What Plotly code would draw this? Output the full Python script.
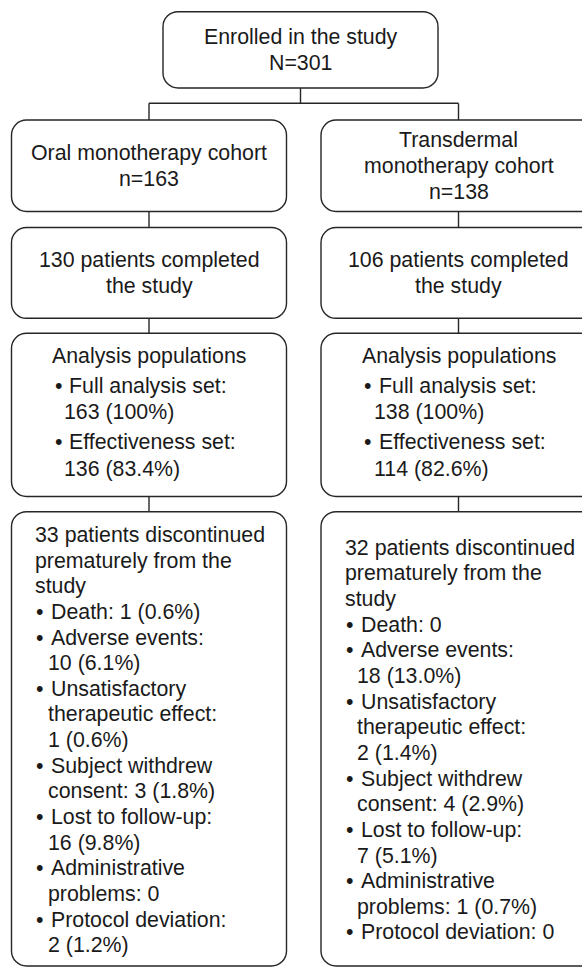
import plotly.graph_objects as go

# ---------------- data (text content of the flowchart) ----------------
enrolled_lines = ["Enrolled in the study", "N=301"]
cohort_lines = [
    ["Oral monotherapy cohort", "n=163"],
    ["Transdermal", "monotherapy cohort", "n=138"],
]
completed_lines = [
    ["130 patients completed", "the study"],
    ["106 patients completed", "the study"],
]
analysis_title = "Analysis populations"
analysis_items = [
    [["Full analysis set:", "163 (100%)"], ["Effectiveness set:", "136 (83.4%)"]],
    [["Full analysis set:", "138 (100%)"], ["Effectiveness set:", "114 (82.6%)"]],
]
discontinued_header = [
    ["33 patients discontinued", "prematurely from the", "study"],
    ["32 patients discontinued", "prematurely from the", "study"],
]
discontinued_items = [
    [
        ["Death: 1 (0.6%)"],
        ["Adverse events:", "10 (6.1%)"],
        ["Unsatisfactory", "therapeutic effect:", "1 (0.6%)"],
        ["Subject withdrew", "consent: 3 (1.8%)"],
        ["Lost to follow-up:", "16 (9.8%)"],
        ["Administrative", "problems: 0"],
        ["Protocol deviation:", "2 (1.2%)"],
    ],
    [
        ["Death: 0"],
        ["Adverse events:", "18 (13.0%)"],
        ["Unsatisfactory", "therapeutic effect:", "2 (1.4%)"],
        ["Subject withdrew", "consent: 4 (2.9%)"],
        ["Lost to follow-up:", "7 (5.1%)"],
        ["Administrative", "problems: 1 (0.7%)"],
        ["Protocol deviation: 0"],
    ],
]

# ---------------- layout constants ----------------
W, H = 582, 969
FONT = "Liberation Sans, Arial, Helvetica, sans-serif"
FS = 21.33
LINE = 25.65
CAP = 15.3
MID = 7.4            # baseline -> vertical centre of text box
TXT_COLOR = "#1a1a1a"
LINE_COLOR = "#262626"
LW = 1.4

COL_CX = [149.0, 458.5]
TOP_CX = 300.5
HALF_W = 137.5
RADIUS = 15
ROWS = [(11.7, 88.0), (120.0, 211.5), (227.5, 318.3), (333.3, 496.5), (511.7, 966.0)]
BUS_Y = 103.3

shapes = []
annotations = []


def rrect(x0, y0, x1, y1, r):
    k = 0.5523 * r
    return (
        f"M{x0 + r},{y0} L{x1 - r},{y0} C{x1 - r + k},{y0} {x1},{y0 + r - k} {x1},{y0 + r} "
        f"L{x1},{y1 - r} C{x1},{y1 - r + k} {x1 - r + k},{y1} {x1 - r},{y1} "
        f"L{x0 + r},{y1} C{x0 + r - k},{y1} {x0},{y1 - r + k} {x0},{y1 - r} "
        f"L{x0},{y0 + r} C{x0},{y0 + r - k} {x0 + r - k},{y0} {x0 + r},{y0} Z"
    )


def box(cx, row):
    y0, y1 = ROWS[row]
    shapes.append(dict(type="path", xref="x", yref="y",
                       path=rrect(cx - HALF_W, y0, cx + HALF_W, y1, RADIUS),
                       line=dict(color=LINE_COLOR, width=LW), fillcolor="white", layer="below"))


def seg(x0, y0, x1, y1):
    shapes.append(dict(type="line", xref="x", yref="y", x0=x0, y0=y0, x1=x1, y1=y1,
                       line=dict(color=LINE_COLOR, width=LW), layer="below"))


def text(x, baseline, s, anchor="left"):
    annotations.append(dict(x=x, y=baseline - MID, xref="x", yref="y", text=s,
                            showarrow=False, xanchor=anchor, yanchor="middle",
                            font=dict(family=FONT, size=FS, color=TXT_COLOR)))


def centered_block(cx, row, lines):
    y0, y1 = ROWS[row]
    b = (y0 + y1) / 2 + CAP / 2 - (len(lines) - 1) * LINE / 2
    for i, s in enumerate(lines):
        text(cx, b + i * LINE, s, "center")


# ---------------- boxes ----------------
box(TOP_CX, 0)
for c in range(2):
    for r in range(1, 5):
        box(COL_CX[c], r)

# ---------------- connectors ----------------
seg(TOP_CX, ROWS[0][1], TOP_CX, BUS_Y)
seg(COL_CX[0], BUS_Y, COL_CX[1], BUS_Y)
for c in range(2):
    seg(COL_CX[c], BUS_Y, COL_CX[c], ROWS[1][0])
    for r in range(1, 4):
        seg(COL_CX[c], ROWS[r][1], COL_CX[c], ROWS[r + 1][0])

# ---------------- texts ----------------
centered_block(TOP_CX, 0, enrolled_lines)
for c in range(2):
    cx = COL_CX[c]
    left = cx - HALF_W
    centered_block(cx, 1, cohort_lines[c])
    centered_block(cx, 2, completed_lines[c])

    # analysis populations
    b = ROWS[3][0] + 30.0
    text(cx, b, analysis_title, "center")
    b += 30.0
    for item in analysis_items[c]:
        text(left + 41.0, b, "\u2022")
        for j, s in enumerate(item):
            text(left + (55.5 if j == 0 else 50.5), b + j * 26.5, s)
        b += (len(item) - 1) * 26.5 + 30.0

    # discontinued
    y0, y1 = ROWS[4]
    n = len(discontinued_header[c]) + sum(len(it) for it in discontinued_items[c])
    b = (y0 + y1) / 2 + CAP / 2 - (n - 1) * LINE / 2 + 1.0
    for s in discontinued_header[c]:
        text(left + 21.5, b, s)
        b += LINE
    for item in discontinued_items[c]:
        text(left + 22.5, b, "\u2022")
        for j, s in enumerate(item):
            text(left + (37.5 if j == 0 else 34.0), b, s)
            b += LINE

fig = go.Figure()
fig.update_layout(
    width=W, height=H,
    margin=dict(l=0, r=0, t=0, b=0),
    paper_bgcolor="white", plot_bgcolor="white",
    xaxis=dict(range=[0, W], visible=False, fixedrange=True),
    yaxis=dict(range=[H, 0], visible=False, fixedrange=True),
    shapes=shapes, annotations=annotations, showlegend=False,
)
fig.write_html(
    "out.html",
    config={"displayModeBar": False},
    post_script="document.body.style.margin='0';document.body.style.overflow='hidden';",
)
